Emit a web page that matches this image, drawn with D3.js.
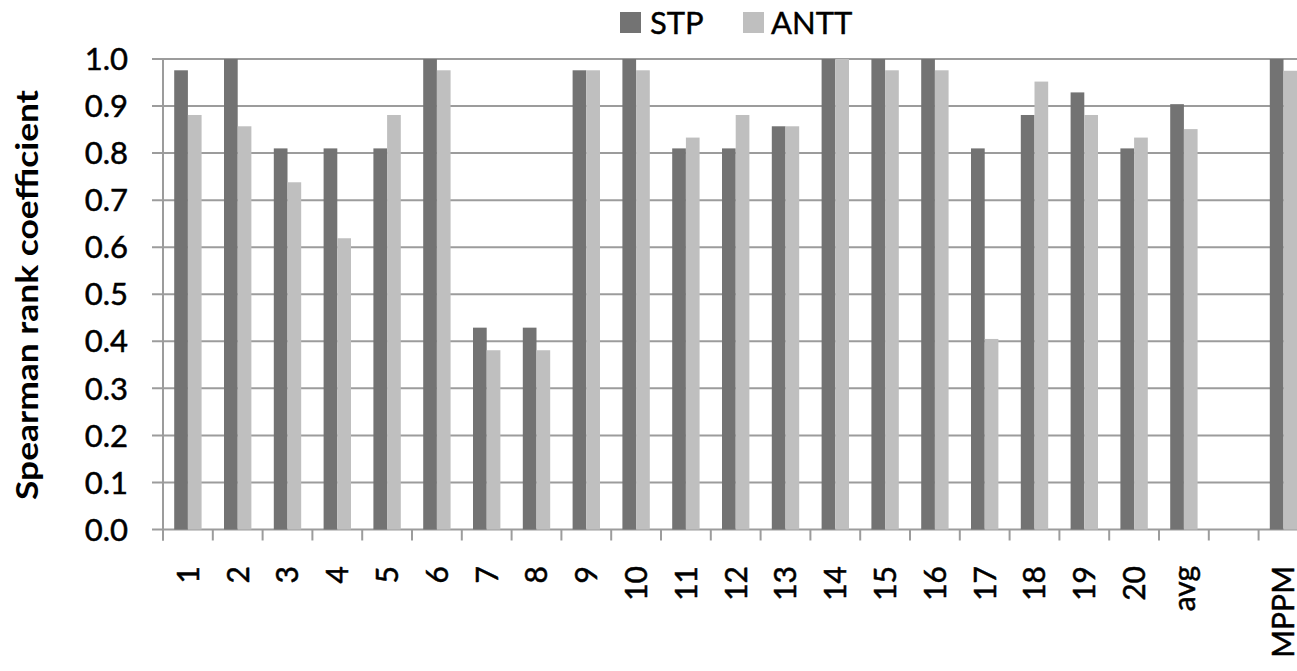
<!DOCTYPE html>
<html><head><meta charset="utf-8">
<script src="https://cdn.jsdelivr.net/npm/d3@7/dist/d3.min.js"></script>
<style>html,body{margin:0;padding:0;background:#fff;overflow:hidden}</style>
</head><body><svg id="c" width="1297" height="671"></svg>
<script>
const categories = ["1","2","3","4","5","6","7","8","9","10","11","12","13","14","15","16","17","18","19","20","avg","","MPPM"];
const seriesNames = ["STP","ANTT"];
const stpValues  = [0.976,1.0,0.810,0.810,0.810,1.0,0.429,0.429,0.976,1.0,0.810,0.810,0.857,1.0,1.0,1.0,0.810,0.881,0.929,0.810,0.904,null,1.0];
const anttValues = [0.881,0.857,0.738,0.619,0.881,0.976,0.381,0.381,0.976,0.976,0.833,0.881,0.857,1.0,0.976,0.976,0.405,0.952,0.881,0.833,0.851,null,0.975];
const yTicks = [0,0.1,0.2,0.3,0.4,0.5,0.6,0.7,0.8,0.9,1.0];
const colors = ["#737373","#bfbfbf"];
const yTitle = "Spearman rank coefficient";

(function(){
const svg = d3.select("#c");
const font = "Lato, 'Open Sans', sans-serif";
const left = 163, bandW = 49.8;
const right = left + bandW * categories.length;
const plotTop = 59, plotBottom = 529.5;

const x = d3.scaleBand().domain(d3.range(categories.length)).range([left, right]).padding(0);
const x1 = d3.scaleBand().domain(seriesNames).range([x.bandwidth()*0.225, x.bandwidth()*0.775]).padding(0);
const y = d3.scaleLinear().domain([0,1]).range([plotBottom, plotTop]);
const gridColor = "#9c9c9c";

svg.append("g").selectAll("line").data(yTicks).join("line")
  .attr("x1", left - 11).attr("x2", right)
  .attr("y1", d => y(d)).attr("y2", d => y(d))
  .attr("stroke", gridColor).attr("stroke-width", 2);

svg.append("line").attr("x1", left).attr("x2", left).attr("y1", plotTop).attr("y2", plotBottom + 11)
  .attr("stroke", gridColor).attr("stroke-width", 2);

const bounds = d3.range(categories.length + 1).map(i => left + i * bandW);
svg.append("g").selectAll("line").data(bounds).join("line")
  .attr("x1", d => d).attr("x2", d => d).attr("y1", plotBottom).attr("y2", plotBottom + 11)
  .attr("stroke", gridColor).attr("stroke-width", 2);

const data = [];
categories.forEach((c, i) => {
  if (stpValues[i] != null) data.push({i, s: "STP", v: stpValues[i]});
  if (anttValues[i] != null) data.push({i, s: "ANTT", v: anttValues[i]});
});
svg.append("g").selectAll("rect").data(data).join("rect")
  .attr("x", d => x(d.i) + x1(d.s))
  .attr("width", x1.bandwidth())
  .attr("y", d => y(d.v))
  .attr("height", d => y(0) - y(d.v))
  .attr("fill", d => colors[seriesNames.indexOf(d.s)]);

svg.append("g").selectAll("text").data(yTicks).join("text")
  .attr("x", 128).attr("y", d => y(d)).attr("dy", "0.36em")
  .attr("text-anchor", "end")
  .attr("font-family", font).attr("font-size", 31).attr("fill", "#000")
  .attr("stroke", "#000").attr("stroke-width", 0.5)
  .text(d3.format(".1f"));

svg.append("g").selectAll("text").data(categories).join("text")
  .attr("transform", (d, i) => `translate(${x(i) + x.bandwidth()/2},566) rotate(-90)`)
  .attr("dy", "0.36em")
  .attr("text-anchor", "end")
  .attr("font-family", font).attr("font-size", 30).attr("fill", "#000")
  .attr("stroke", "#000").attr("stroke-width", 0.5)
  .text(d => d);

svg.append("text")
  .attr("transform", "translate(38,295) rotate(-90)")
  .attr("text-anchor", "middle")
  .attr("textLength", 410).attr("lengthAdjust", "spacingAndGlyphs")
  .attr("font-family", font).attr("font-weight", "bold").attr("font-size", 30)
  .attr("fill", "#000").text(yTitle);

const legendItems = [{name: "STP", sx: 620, tx: 650}, {name: "ANTT", sx: 743, tx: 771}];
const lg = svg.append("g");
legendItems.forEach((it, k) => {
  lg.append("rect").attr("x", it.sx).attr("y", 12).attr("width", 21).attr("height", 21)
    .attr("fill", colors[k]);
  lg.append("text").attr("x", it.tx).attr("y", 34)
    .attr("font-family", font).attr("font-size", 31).attr("fill", "#000")
    .attr("stroke", "#000").attr("stroke-width", 0.4).text(it.name);
});
})();
</script></body></html>
